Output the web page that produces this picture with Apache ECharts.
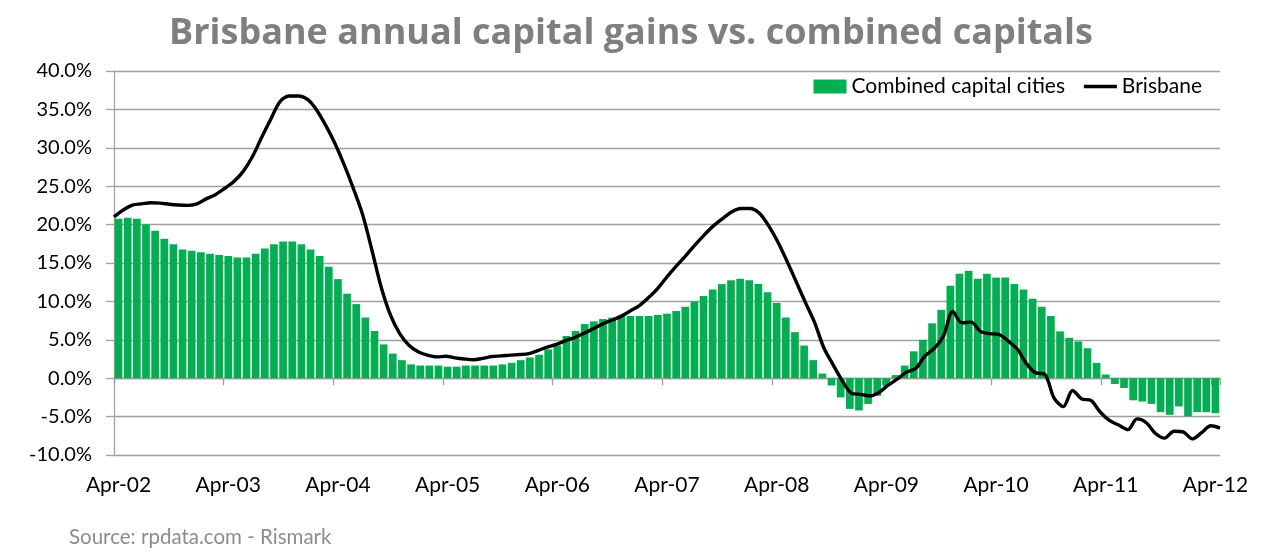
<!DOCTYPE html>
<html>
<head>
<meta charset="utf-8">
<script src="https://cdn.jsdelivr.net/npm/echarts@6/dist/echarts.min.js"></script>
<style>
html,body{margin:0;padding:0;background:#fff;}
#chart{width:1262px;height:559px;}
</style>
</head>
<body>
<div id="chart"></div>
<script>
// ---- data ----
var monthNames = ['Jan','Feb','Mar','Apr','May','Jun','Jul','Aug','Sep','Oct','Nov','Dec'];
var startYear = 2002, startMonth = 3, monthCount = 121; // Apr-02 .. Apr-12
var months = [];
for (var i = 0; i < monthCount; i++) {
  var m = (startMonth + i) % 12;
  var y = startYear + Math.floor((startMonth + i) / 12);
  months.push(monthNames[m] + '-' + String(y % 100).padStart(2, '0'));
}

var combinedCapitals = [
  20.75, 20.9, 20.75, 20.05, 19.2, 18.15, 17.45, 16.75, 16.6, 16.4, 16.2, 16.05,
  15.9, 15.7, 15.7, 16.2, 16.9, 17.45, 17.8, 17.8, 17.45, 16.75, 15.9, 14.5,
  12.9, 11.0, 9.65, 7.9, 6.15, 4.4, 3.2, 2.35, 1.8, 1.65, 1.65, 1.65,
  1.5, 1.5, 1.65, 1.65, 1.65, 1.65, 1.8, 2.0, 2.35, 2.7, 3.05, 3.75,
  4.25, 5.5, 6.15, 7.05, 7.4, 7.7, 7.9, 8.1, 8.1, 8.1, 8.1, 8.25,
  8.4, 8.75, 9.3, 10.0, 10.7, 11.55, 12.25, 12.75, 12.95, 12.75, 12.25, 11.2,
  9.8, 7.9, 6.0, 4.25, 2.35, 0.6, -0.95, -2.5, -4.0, -4.2, -3.35, -2.3,
  -1.0, 0.4, 1.65, 3.5, 5.0, 7.15, 8.9, 12.05, 13.6, 14.0, 12.95, 13.6,
  13.1, 13.1, 12.25, 11.55, 10.35, 9.3, 8.1, 6.1, 5.26, 4.78, 3.9, 2.0,
  0.48, -0.75, -1.28, -2.88, -3.04, -3.35, -4.42, -4.77, -3.68, -4.97, -4.42, -4.42,
  -4.56
];

var brisbane = [
  21.0, 21.9, 22.55, 22.7, 22.85, 22.8, 22.65, 22.55, 22.5, 22.7, 23.35, 23.9,
  24.7, 25.6, 26.9, 28.8, 31.3, 33.7, 36.0, 36.75, 36.75, 36.3, 34.9, 32.85,
  30.5, 27.7, 24.6, 21.2, 16.6, 11.8, 8.2, 5.8, 4.3, 3.45, 3.0, 2.78,
  2.85, 2.65, 2.5, 2.4, 2.58, 2.83, 2.9, 3.0, 3.08, 3.2, 3.6, 4.05,
  4.4, 4.9, 5.3, 5.85, 6.45, 7.05, 7.55, 8.05, 8.75, 9.45, 10.5, 11.7,
  13.2, 14.6, 15.9, 17.3, 18.6, 19.8, 20.75, 21.65, 22.1, 22.1, 21.5, 19.9,
  17.8, 15.3, 12.6, 9.9, 7.3, 4.0, 1.8, -0.3, -1.95, -2.1, -2.3, -1.85,
  -0.9, -0.1, 0.8, 1.3, 2.9, 3.9, 5.5, 8.7, 7.2, 7.3, 6.1, 5.8,
  5.7, 4.85, 3.8, 1.9, 0.7, 0.5, -2.6, -3.7, -1.6, -2.7, -2.9, -4.4,
  -5.5, -6.1, -6.7, -5.3, -5.8, -7.2, -7.8, -6.9, -7.0, -7.9, -7.1, -6.2,
  -6.5
];

var titleText = 'Brisbane annual capital gains vs. combined capitals';
var sourceText = 'Source: rpdata.com - Rismark';
var seriesNames = ['Combined capital cities', 'Brisbane'];

// ---- chart ----
var chart = echarts.init(document.getElementById('chart'), null, {renderer: 'canvas'});
var gridColor = '#a0a0a0';
var font = 'Lato, "Open Sans", sans-serif';

chart.setOption({
  animation: false,
  backgroundColor: '#ffffff',
  title: {
    text: titleText,
    left: 'center',
    top: 11,
    textStyle: {fontFamily: '"Open Sans", Lato, sans-serif', fontWeight: 'bold', fontSize: 36, color: '#7f7f7f'}
  },
  graphic: [{
    type: 'text',
    left: 69,
    top: 527,
    style: {text: sourceText, fontFamily: font, fontSize: 20.5, fill: '#8c8c8c'}
  }],
  legend: [
    {
      right: 192,
      top: 71,
      itemWidth: 33,
      itemHeight: 14,
      itemGap: 10,
      textStyle: {fontFamily: font, fontSize: 21, color: '#000'},
      data: [{name: seriesNames[0], icon: 'rect'}]
    },
    {
      right: 55,
      top: 71,
      itemWidth: 33,
      itemHeight: 3.5,
      textStyle: {fontFamily: font, fontSize: 21, color: '#000'},
      data: [{name: seriesNames[1], icon: 'rect', itemStyle: {color: '#000'}}]
    }
  ],
  grid: {left: 114, right: 42, top: 71, bottom: 104, containLabel: false},
  xAxis: [
    {
      type: 'category',
      data: months,
      boundaryGap: true,
      position: 'bottom',
      axisLine: {onZero: true, lineStyle: {color: gridColor, width: 1.3}},
      axisTick: {show: true, interval: 11, length: 7, lineStyle: {color: gridColor, width: 1.3}},
      axisLabel: {show: false},
      splitLine: {show: false}
    },
    {
      type: 'category',
      data: months,
      boundaryGap: false,
      show: false,
      position: 'bottom',
      axisLine: {onZero: false}
    },
    {
      type: 'category',
      data: months,
      boundaryGap: true,
      position: 'bottom',
      axisLine: {show: false, onZero: false},
      axisTick: {show: false},
      axisLabel: {show: true, interval: 11, margin: 20, fontFamily: font, fontSize: 21, color: '#000'},
      splitLine: {show: false}
    }
  ],
  yAxis: {
    type: 'value',
    min: -10,
    max: 40,
    interval: 5,
    axisLine: {show: true, lineStyle: {color: gridColor, width: 1.3}},
    axisTick: {show: true, length: 8, lineStyle: {color: gridColor, width: 1.3}},
    axisLabel: {
      margin: 22,
      fontFamily: font,
      fontSize: 20,
      color: '#000',
      formatter: function (v) { return v.toFixed(1) + '%'; }
    },
    splitLine: {show: true, lineStyle: {color: gridColor, width: 1.3}}
  },
  series: [
    {
      name: seriesNames[0],
      type: 'bar',
      xAxisIndex: 0,
      data: combinedCapitals,
      barCategoryGap: '16%',
      itemStyle: {color: '#00b050'}
    },
    {
      name: seriesNames[1],
      type: 'line',
      xAxisIndex: 1,
      data: brisbane,
      symbol: 'none',
      smooth: 0.3,
      lineStyle: {color: '#000', width: 3.4},
      itemStyle: {color: '#000'},
      z: 5
    }
  ]
});
</script>
</body>
</html>
